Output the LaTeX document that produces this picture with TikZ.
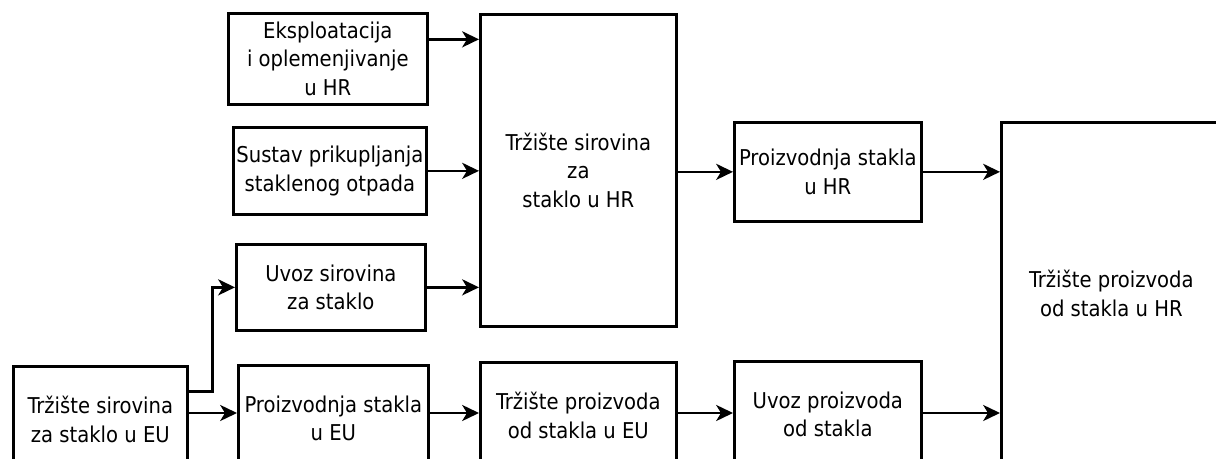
\documentclass[tikz,border=0pt]{standalone}
\usepackage{fontspec}
\setmainfont{DejaVu Sans Condensed}
\usepackage{tikz}
\usetikzlibrary{arrows.meta,positioning}

\begin{document}
\begin{tikzpicture}[
    x=0.025cm, y=-0.025cm,
    font=\fontsize{15.5}{20.2}\selectfont,
    box/.style={rectangle, draw, line width=1.9pt, inner sep=0pt, anchor=north west, align=center},
    arrow/.style={-{Stealth[length=0.42cm, width=0.4cm, inset=0.12cm]}, line width=1.9pt}
]
\useasboundingbox (0,0) rectangle (1216,459);
\clip (0,0) rectangle (1216,459);

% izvori sirovina
\node[box, minimum width=4.975cm, minimum height=2.275cm] (eksp) at (227,12) {Eksploatacija\\i oplemenjivanje\\u HR};
\node[box, minimum width=4.825cm, minimum height=2.175cm] (sustav) at (232,126) {Sustav prikupljanja\\staklenog otpada};
\node[box, minimum width=4.725cm, minimum height=2.15cm] (uvozSir) at (235,243) {Uvoz sirovina\\za staklo};
\node[box, minimum width=4.9cm, minimum height=7.8cm] (trzSirHR) at (479,13) {Tržište sirovina\\za\\staklo u HR};
\node[box, minimum width=4.675cm, minimum height=2.475cm] (proizHR) at (733,121) {Proizvodnja stakla\\u HR};
\node[box, minimum width=5.5cm, minimum height=8.55cm] (trzProHR) at (1000,121) {Tržište proizvoda\\od stakla u HR};

% donji red
\node[box, minimum width=4.35cm, minimum height=2.65cm] (trzSirEU) at (12,365) {Tržište sirovina\\za staklo u EU};
\node[box, minimum width=4.75cm, minimum height=2.65cm] (proizEU) at (237,364) {Proizvodnja stakla\\u EU};
\node[box, minimum width=4.9cm, minimum height=2.65cm] (trzProEU) at (479,361) {Tržište proizvoda\\od stakla u EU};
\node[box, minimum width=4.675cm, minimum height=2.65cm] (uvozPro) at (733,360) {Uvoz proizvoda\\od stakla};
\coordinate (row) at (0,413);

\draw[arrow] ([yshift=0.4875cm]eksp.east) -- ([yshift=0.4875cm]eksp.east -| trzSirHR.west);
\draw[arrow] (sustav.east) -- (sustav.east -| trzSirHR.west);
\draw[arrow] (uvozSir.east) -- (uvozSir.east -| trzSirHR.west);
\draw[arrow] (proizHR.west -| trzSirHR.east) -- (proizHR.west);
\draw[arrow] (proizHR.east) -- (proizHR.east -| trzProHR.west);

\draw[arrow] ([yshift=0.7cm]trzSirEU.east) -- ++(0.6cm,0) |- (uvozSir.west);
\draw[arrow] (trzSirEU.east |- row) -- (proizEU.west |- row);
\draw[arrow] (proizEU.east |- row) -- (trzProEU.west |- row);
\draw[arrow] (trzProEU.east |- row) -- (uvozPro.west |- row);
\draw[arrow] (uvozPro.east |- row) -- (trzProHR.west |- row);
\end{tikzpicture}
\end{document}
